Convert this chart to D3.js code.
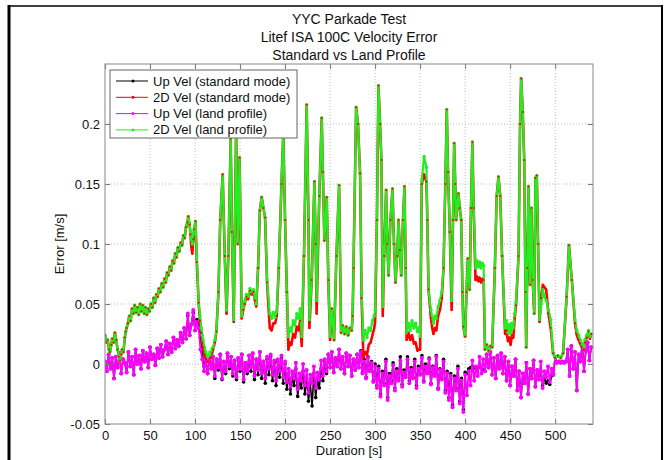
<!DOCTYPE html>
<html>
<head>
<meta charset="utf-8">
<script src="https://cdn.jsdelivr.net/npm/d3@7"></script>
<style>
	body { margin: 0; background: #fff; }
	svg { display: block; font-family: "Liberation Sans", Arial, sans-serif; }
	.tick text { font-size: 13px; fill: #111; }
</style>
</head>
<body>
<svg id="chart" width="666" height="460"></svg>
<script>
//time base of the up velocity traces (one sample every 2 s)
var upTime = d3.range(0, 541, 2);

//Up Vel (land profile), 0..540 s
var upVelLand = [
	0.002,-0.006,0.008,-0.004,0.005,-0.012,0.006,-0.003,0.009,-0.008,0.004,
	0.001,-0.007,0.010,-0.002,0.006,-0.009,0.012,0.000,0.007,-0.004,
	0.011,0.002,0.009,-0.003,0.014,0.004,0.008,-0.001,0.013,0.005,
	0.016,0.006,0.012,0.019,0.008,0.017,0.010,0.022,0.013,0.020,
	0.015,0.026,0.018,0.030,0.021,0.042,0.024,0.033,0.045,0.028,
	0.035,0.030,0.012,0.004,-0.006,0.003,-0.008,0.005,-0.004,0.006,
	-0.010,0.004,-0.003,0.008,-0.012,0.002,-0.006,0.009,-0.002,0.006,
	-0.008,0.003,-0.011,0.005,-0.004,0.008,-0.013,0.001,-0.006,0.007,
	-0.003,0.009,-0.010,0.004,-0.005,0.010,-0.008,0.002,-0.012,0.006,
	-0.004,0.008,-0.009,0.003,-0.014,0.004,-0.006,0.007,-0.011,0.002,
	-0.015,-0.004,-0.019,-0.006,-0.012,0.001,-0.021,-0.008,-0.014,0.000,
	-0.018,-0.005,-0.024,-0.009,-0.016,-0.002,-0.020,-0.007,-0.013,0.003,
	-0.010,0.004,-0.006,0.008,-0.003,0.010,-0.007,0.005,-0.002,0.012,
	-0.004,0.006,-0.008,0.009,-0.002,0.007,-0.010,0.004,-0.005,0.008,
	-0.003,0.010,-0.008,0.002,-0.012,0.005,-0.006,0.001,-0.015,-0.002,
	-0.020,-0.004,-0.027,-0.008,-0.018,0.002,-0.030,-0.010,-0.016,-0.001,
	-0.022,-0.006,-0.014,0.003,-0.019,-0.007,-0.011,0.004,-0.016,-0.005,
	-0.012,0.002,-0.020,-0.004,-0.009,0.005,-0.015,-0.002,-0.008,0.004,
	-0.017,-0.003,-0.010,0.006,-0.021,-0.005,-0.013,0.002,-0.024,-0.008,
	-0.030,-0.010,-0.036,-0.012,-0.022,-0.004,-0.033,-0.014,-0.040,-0.009,
	-0.026,-0.006,-0.018,0.003,-0.014,-0.002,-0.010,0.006,-0.008,0.004,
	-0.006,0.008,-0.003,0.010,-0.009,0.005,-0.012,0.007,-0.004,0.009,
	-0.008,0.006,-0.014,0.002,-0.018,-0.002,-0.010,0.004,-0.022,-0.006,
	-0.028,-0.008,-0.016,0.001,-0.025,-0.004,-0.012,0.003,-0.019,-0.005,
	-0.013,0.002,-0.020,-0.006,-0.011,-0.002,-0.015,-0.004,-0.009,0.006,
	0.001,0.002,0.001,0.002,0.001,0.002,0.012,-0.010,0.015,-0.004,
	0.010,-0.022,0.008,0.002,0.016,-0.006,0.011,0.018,0.003,0.014
];

//Up Vel (standard mode), 0..540 s
var upVelStd = [
	0.002,-0.006,0.008,-0.004,0.005,-0.012,0.006,-0.003,0.009,-0.008,0.004,
	0.001,-0.007,0.010,-0.002,0.006,-0.009,0.012,0.000,0.007,-0.004,
	0.011,0.002,0.009,-0.003,0.014,0.004,0.008,-0.001,0.013,0.005,
	0.016,0.006,0.012,0.019,0.008,0.017,0.010,0.022,0.013,0.020,
	0.015,0.026,0.018,0.030,0.021,0.040,0.024,0.033,0.043,0.028,
	0.037,0.034,0.022,0.010,-0.002,0.003,-0.008,0.005,-0.004,0.006,
	-0.012,0.004,-0.005,0.008,-0.013,0.002,-0.008,0.009,-0.004,0.006,
	-0.010,0.003,-0.013,0.005,-0.006,0.008,-0.015,0.001,-0.008,0.007,
	-0.006,0.009,-0.013,0.004,-0.009,0.010,-0.012,0.002,-0.016,0.004,
	-0.009,0.006,-0.014,0.001,-0.018,0.002,-0.011,0.005,-0.016,0.000,
	-0.021,-0.008,-0.025,-0.011,-0.018,-0.004,-0.027,-0.013,-0.020,-0.006,
	-0.025,-0.012,-0.031,-0.016,-0.035,-0.008,-0.028,-0.013,-0.020,-0.004,
	-0.014,0.002,-0.008,0.008,-0.003,0.010,-0.007,0.005,-0.002,0.012,
	-0.004,0.006,-0.008,0.009,-0.002,0.007,-0.010,0.004,-0.005,0.008,
	-0.003,0.011,-0.007,0.004,-0.011,0.006,-0.005,0.002,-0.014,0.000,
	-0.018,-0.002,-0.025,-0.006,-0.016,0.004,-0.028,-0.008,-0.014,0.001,
	-0.020,-0.004,-0.012,0.006,-0.017,-0.005,-0.009,0.006,-0.014,-0.003,
	-0.011,0.004,-0.018,-0.002,-0.008,0.007,-0.014,0.000,-0.007,0.005,
	-0.016,-0.002,-0.009,0.007,-0.020,-0.004,-0.012,0.004,-0.022,-0.006,
	-0.028,-0.008,-0.034,-0.010,-0.020,-0.002,-0.031,-0.012,-0.038,-0.007,
	-0.008,-0.004,-0.003,-0.002,-0.003,-0.004,-0.003,-0.002,-0.004,-0.005,
	-0.006,0.008,-0.003,0.010,-0.009,0.005,-0.012,0.007,-0.004,0.009,
	-0.008,0.006,-0.014,0.002,-0.018,-0.002,-0.010,0.004,-0.022,-0.006,
	-0.028,-0.008,-0.016,0.001,-0.025,-0.004,-0.012,0.003,-0.019,-0.005,
	-0.013,-0.006,-0.018,-0.012,-0.016,-0.014,-0.017,-0.010,-0.009,0.006,
	0.001,0.002,0.001,0.002,0.001,0.002,0.012,-0.010,0.015,-0.004,
	0.010,-0.022,0.008,0.002,0.016,-0.006,0.011,0.018,0.003,0.014
];

//2D Vel (land profile) as [time, error]
var vel2dLand = [
	[0,.024],[1.5,.018],[3,.020],[4.5,.012],[5.5,.010],[7,.016],[8,.021],[9.5,.018],[11,.026],[12.5,.020],
	[14,.012],[15.5,.006],[16.7,.003],[18,.008],[19,.012],[20.5,.010],[22,.022],[23,.027],[24,.030],[25.5,.034],
	[27,.040],[28.5,.036],[30,.046],[31.5,.042],[33,.049],[34.5,.043],[36,.047],[37.5,.041],[39,.050],[40.5,.044],
	[42,.049],[43.5,.042],[45,.047],[46.5,.041],[48,.046],[49.5,.044],[51,.050],[52.5,.047],[54,.055],[55.5,.051],
	[57,.058],[58.5,.056],[60,.063],[61.5,.060],[63,.067],[64.5,.064],[66,.071],[67.5,.068],[69,.076],[70.5,.074],
	[72,.081],[73.5,.078],[75,.086],[76.5,.084],[78,.092],[79.5,.089],[81,.097],[82.5,.094],[84,.101],[85.5,.099],
	[87,.107],[88.5,.105],[90,.114],[91.5,.118],[92.5,.123],[94,.116],[95,.110],[96,.104],[97,.100],[98,.108],
	[99,.113],[100.5,.119],[102,.090],[104,.051],[105.5,.040],[107,.030],[108,.024],[109,.020],[110.5,.014],[112,.010],
	[113.5,.007],[115,.006],[116.5,.010],[118,.009],[119,.013],[120,.014],[122,.020],[123.7,.027],[126,.060],[128,.120],
	[130.7,.158],[133,.090],[135,.045],[137,.090],[139.6,.188],[141,.110],[143,.037],[145.6,.195],[147.5,.100],[149.5,.172],
	[151.8,.040],[153.5,.047],[155,.052],[157,.058],[159,.056],[161,.063],[163,.060],[164.8,.062],[166.5,.055],[168,.050],
	[170,.080],[172,.128],[174,.139],[176,.130],[177.8,.122],[180,.070],[183,.042],[185,.038],[187,.043],[189,.039],
	[190.7,.044],[193,.080],[196,.150],[198,.192],[200,.120],[202,.060],[203.7,.023],[205.5,.030],[207,.027],[209,.036],
	[211,.032],[213,.042],[215,.038],[216.7,.046],[218.5,.023],[221,.090],[224,.216],[226,.120],[227,.037],[229.6,.070],
	[232.6,.152],[234,.100],[235,.053],[238,.140],[240.7,.205],[242,.160],[243.6,.103],[246.3,.139],[248,.070],[250,.023],
	[251.8,.046],[254.4,.020],[257,.090],[260,.149],[262.2,.026],[264,.032],[266,.025],[268,.031],[270,.024],[272,.030],
	[274,.028],[275,.040],[276,.080],[278.9,.214],[281,.200],[283.3,.159],[285,.060],[287,.020],[289,.028],[291,.022],
	[293,.030],[295,.028],[297,.036],[299,.040],[300,.045],[302,.120],[303.7,.232],[305.5,.200],[307,.170],[308.5,.048],
	[310,.090],[312.2,.145],[313.5,.100],[315,.074],[317,.120],[319.3,.146],[321,.100],[322.6,.068],[324.5,.090],[326,.120],
	[327.5,.095],[329,.074],[331,.120],[332.6,.148],[334,.080],[335,.026],[337,.034],[339,.028],[341,.036],[343,.030],
	[345,.034],[347,.027],[348.5,.030],[350,.023],[351.8,.153],[354.4,.173],[357,.164],[358,.120],[359.3,.062],[362,.045],
	[363.5,.038],[364.8,.034],[366.5,.040],[368,.038],[370,.048],[372,.053],[374,.060],[376,.080],[378,.150],[379.6,.212],
	[381,.160],[383,.110],[385,.053],[386.5,.120],[387.8,.184],[389,.150],[390,.120],[392.6,.142],[394,.130],[395.6,.120],
	[397,.060],[398,.031],[400,.023],[401.5,.060],[403,.088],[405,.062],[406.5,.130],[408,.185],[409.5,.130],[411.5,.080],
	[413,.086],[414.5,.081],[416,.085],[417.5,.080],[419,.084],[420.5,.082],[422,.012],[424,.016],[426,.011],[428,.015],
	[430,.014],[433,.080],[435,.140],[437,.156],[439,.140],[441,.090],[444.4,.030],[446,.036],[447.5,.026],[449,.033],
	[450.5,.025],[452,.034],[453.5,.030],[455,.042],[456.5,.052],[459.3,.090],[461,.200],[462.2,.238],[464,.210],[465.6,.170],
	[467,.060],[467.8,.014],[469,.080],[470.4,.148],[472,.066],[473.6,.130],[475,.070],[476.7,.042],[478,.155],[479.6,.157],
	[481,.100],[482.6,.037],[484.5,.050],[486.3,.062],[488,.056],[490,.053],[492.5,.045],[495,.037],[497.7,.009],[500,.005],
	[503,.007],[506,.005],[508.8,.009],[512.7,.056],[515.3,.099],[518.5,.070],[522,.037],[524,.028],[526,.024],[527.8,.020],
	[529.5,.017],[531.6,.014],[533,.020],[535,.024],[537,.028],[538.5,.022],[540,.025]
];

//2D Vel (standard mode) as [time, error]
var vel2dStd = [
	[0,.024],[1.5,.018],[3,.020],[4.5,.012],[5.5,.010],[7,.016],[8,.021],[9.5,.018],[11,.026],[12.5,.020],
	[14,.012],[15.5,.006],[16.7,.003],[18,.008],[19,.012],[20.5,.010],[22,.022],[23,.027],[24,.030],[25.5,.034],
	[27,.040],[28.5,.036],[30,.046],[31.5,.042],[33,.049],[34.5,.043],[36,.047],[37.5,.041],[39,.050],[40.5,.044],
	[42,.049],[43.5,.042],[45,.047],[46.5,.041],[48,.046],[49.5,.044],[51,.050],[52.5,.047],[54,.055],[55.5,.051],
	[57,.058],[58.5,.056],[60,.063],[61.5,.060],[63,.067],[64.5,.064],[66,.071],[67.5,.068],[69,.076],[70.5,.074],
	[72,.081],[73.5,.078],[75,.086],[76.5,.084],[78,.092],[79.5,.089],[81,.097],[82.5,.094],[84,.101],[85.5,.099],
	[87,.107],[88.5,.105],[90,.114],[91.5,.118],[92.5,.123],[94,.116],[95,.108],[96,.097],[97,.092],[98,.104],
	[99,.112],[100.5,.119],[102,.085],[104,.051],[105.5,.036],[107,.026],[108,.018],[109,.014],[110.5,.008],[112,.004],
	[113.5,.002],[115,.002],[116.5,.005],[118,.005],[119,.009],[120,.012],[122,.018],[123.7,.027],[126,.060],[128,.120],
	[130.7,.158],[133,.090],[135,.042],[137,.090],[139.6,.188],[141,.110],[143,.035],[145.6,.195],[147.5,.100],[149.5,.172],
	[151.8,.038],[153.5,.045],[155,.050],[157,.056],[159,.054],[161,.061],[163,.058],[164.8,.060],[166.5,.053],[168,.048],
	[170,.080],[172,.128],[174,.139],[176,.130],[177.8,.122],[180,.068],[183,.030],[185,.028],[187,.034],[189,.034],
	[190.7,.040],[193,.080],[196,.150],[198,.192],[200,.120],[202,.060],[203.7,.012],[205.5,.018],[207,.016],[209,.025],
	[211,.022],[213,.031],[215,.028],[216.7,.036],[218.5,.015],[221,.090],[224,.216],[226,.120],[227,.030],[229.6,.070],
	[232.6,.152],[234,.100],[235,.042],[238,.140],[240.7,.205],[242,.160],[243.6,.103],[246.3,.139],[248,.070],[250,.020],
	[251.8,.046],[254.4,.020],[257,.090],[260,.149],[262.2,.026],[264,.032],[266,.025],[268,.031],[270,.024],[272,.030],
	[274,.028],[275,.040],[276,.080],[278.9,.214],[281,.200],[283.3,.159],[285,.055],[287,.005],[289,.010],[291,.008],
	[293,.016],[295,.018],[297,.024],[299,.030],[300,.035],[302,.120],[303.7,.232],[305.5,.200],[307,.170],[308.5,.040],
	[310,.090],[312.2,.145],[313.5,.100],[315,.074],[317,.120],[319.3,.146],[321,.100],[322.6,.068],[324.5,.090],[326,.120],
	[327.5,.095],[329,.074],[331,.120],[332.6,.148],[334,.080],[335,.020],[337,.026],[339,.020],[341,.024],[343,.017],
	[345,.018],[347,.011],[348.5,.012],[350,.012],[351.8,.150],[354.4,.158],[357,.152],[358,.120],[359.3,.062],[362,.038],
	[363.5,.030],[364.8,.025],[366.5,.030],[368,.028],[370,.040],[372,.045],[374,.055],[376,.080],[378,.150],[379.6,.212],
	[381,.160],[383,.110],[385,.045],[386.5,.120],[387.8,.184],[389,.150],[390,.120],[392.6,.142],[394,.130],[395.6,.120],
	[397,.060],[398,.031],[400,.023],[401.5,.060],[403,.088],[405,.062],[406.5,.130],[408,.185],[409.5,.130],[411.5,.070],
	[413,.073],[414.5,.069],[416,.072],[417.5,.068],[419,.071],[420.5,.070],[422,.012],[424,.016],[426,.011],[428,.015],
	[430,.014],[433,.080],[435,.140],[437,.156],[439,.140],[441,.090],[444.4,.025],[446,.028],[447.5,.019],[449,.022],
	[450.5,.016],[452,.024],[453.5,.022],[455,.038],[456.5,.049],[459.3,.090],[461,.200],[462.2,.238],[464,.210],[465.6,.170],
	[467,.060],[467.8,.014],[469,.080],[470.4,.148],[472,.066],[473.6,.130],[475,.070],[476.7,.042],[478,.155],[479.6,.157],
	[481,.100],[482.6,.035],[484.5,.055],[486.3,.066],[488,.064],[490,.062],[492.5,.042],[495,.030],[497.7,.009],[500,.005],
	[503,.007],[506,.005],[508.8,.009],[512.7,.056],[515.3,.099],[518.5,.070],[522,.034],[524,.024],[526,.020],[527.8,.017],
	[529.5,.014],[531.6,.012],[533,.018],[535,.022],[537,.027],[538.5,.021],[540,.025]
];

var xTicks = [0, 50, 100, 150, 200, 250, 300, 350, 400, 450, 500];
var yTicks = [-0.05, 0, 0.05, 0.1, 0.15, 0.2];
var titleLines = ["YYC Parkade Test", "Litef ISA 100C Velocity Error", "Standard vs Land Profile"];
var seriesNames = ["Up Vel (standard mode)", "2D Vel (standard mode)", "Up Vel (land profile)", "2D Vel (land profile)"];
var seriesColors = ["#000000", "#ff0000", "#ff00ff", "#22ee22"];

var svg = d3.select("#chart");
var plotLeft = 105, plotRight = 593, plotTop = 64, plotBottom = 424;

var x = d3.scaleLinear().domain([0, 542]).range([plotLeft, plotRight]);
var y = d3.scaleLinear().domain([-0.05, 0.25]).range([plotBottom, plotTop]);

svg.append("rect").attr("width", 666).attr("height", 460).attr("fill", "#fff");

//page frame around the figure
svg.append("line").attr("x1", 8).attr("x2", 663).attr("y1", 6).attr("y2", 6)
	.attr("stroke", "#000").attr("stroke-width", 1.5);
svg.append("line").attr("x1", 9).attr("x2", 9).attr("y1", 5).attr("y2", 460)
	.attr("stroke", "#000").attr("stroke-width", 3);
svg.append("line").attr("x1", 662).attr("x2", 662).attr("y1", 5).attr("y2", 460)
	.attr("stroke", "#000").attr("stroke-width", 2);

//dotted grid
svg.append("g").selectAll("line").data(xTicks.filter(function(d){ return d > 0; }))
	.join("line")
	.attr("x1", function(d){ return x(d); }).attr("x2", function(d){ return x(d); })
	.attr("y1", plotTop).attr("y2", plotBottom)
	.attr("stroke", "#bbb").attr("stroke-width", 1).attr("stroke-dasharray", "1,2");
svg.append("g").selectAll("line").data(yTicks.filter(function(d){ return d > -0.05; }))
	.join("line")
	.attr("x1", plotLeft).attr("x2", plotRight)
	.attr("y1", function(d){ return y(d); }).attr("y2", function(d){ return y(d); })
	.attr("stroke", "#bbb").attr("stroke-width", 1).attr("stroke-dasharray", "1,2");

//series
svg.append("clipPath").attr("id", "plotClip").append("rect")
	.attr("x", plotLeft).attr("y", plotTop).attr("width", plotRight - plotLeft).attr("height", plotBottom - plotTop);
var plot = svg.append("g").attr("clip-path", "url(#plotClip)");

var line = d3.line().x(function(d){ return x(d[0]); }).y(function(d){ return y(d[1]); });
var upStdPts = upTime.map(function(t, i){ return [t, upVelStd[i]]; });
var upLandPts = upTime.map(function(t, i){ return [t, upVelLand[i]]; });

function drawLine(pts, color, width){
	plot.append("path").datum(pts)
		.attr("d", line)
		.attr("fill", "none")
		.attr("stroke", color)
		.attr("stroke-width", width)
		.attr("stroke-linejoin", "round");
}
function drawDots(pts, color, r){
	plot.append("g").selectAll("circle").data(pts).join("circle")
		.attr("cx", function(d){ return x(d[0]); })
		.attr("cy", function(d){ return y(d[1]); })
		.attr("r", r)
		.attr("fill", color);
}

drawLine(upStdPts, seriesColors[0], 1.6);
drawDots(upStdPts, seriesColors[0], 1.8);
drawLine(vel2dStd, seriesColors[1], 2.6);
drawLine(upLandPts, seriesColors[2], 1.8);
drawDots(upLandPts, seriesColors[2], 2.0);
drawLine(vel2dLand, seriesColors[3], 2.2);
drawDots(vel2dLand, seriesColors[3], 1.7);
//standard mode markers peek through the land profile trace
drawDots(vel2dStd, seriesColors[1], 1.0);

//axes, MATLAB style: inward ticks on all four sides
var fmt = function(d){ return String(+d.toFixed(2)); };
svg.append("g").attr("transform", "translate(0," + plotBottom + ")")
	.call(d3.axisBottom(x).tickValues(xTicks).tickSize(-5).tickPadding(7).tickFormat(fmt));
svg.append("g").attr("transform", "translate(" + plotLeft + ",0)")
	.call(d3.axisLeft(y).tickValues(yTicks).tickSize(-5).tickPadding(5).tickFormat(fmt));
svg.append("g").attr("transform", "translate(0," + plotTop + ")")
	.call(d3.axisTop(x).tickValues(xTicks).tickSize(-5).tickFormat(""));
svg.append("g").attr("transform", "translate(" + plotRight + ",0)")
	.call(d3.axisRight(y).tickValues(yTicks).tickSize(-5).tickFormat(""));
svg.selectAll(".domain").remove();
svg.selectAll(".tick line").attr("stroke", "#777");
svg.append("rect")
	.attr("x", plotLeft).attr("y", plotTop)
	.attr("width", plotRight - plotLeft).attr("height", plotBottom - plotTop)
	.attr("fill", "none").attr("stroke", "#888").attr("stroke-width", 1);

//titles
svg.append("g").selectAll("text").data(titleLines).join("text")
	.attr("x", (plotLeft + plotRight) / 2)
	.attr("y", function(d, i){ return 24 + i * 18; })
	.attr("text-anchor", "middle")
	.style("font-size", "14px")
	.style("fill", "#111")
	.text(function(d){ return d; });

svg.append("text")
	.attr("x", (plotLeft + plotRight) / 2)
	.attr("y", 455)
	.attr("text-anchor", "middle")
	.style("font-size", "13px")
	.style("fill", "#111")
	.text("Duration [s]");

svg.append("text")
	.attr("transform", "translate(64," + ((plotTop + plotBottom) / 2) + ") rotate(-90)")
	.attr("text-anchor", "middle")
	.style("font-size", "13px")
	.style("fill", "#111")
	.text("Error [m/s]");

//legend
var legend = svg.append("g").attr("transform", "translate(110,70)");
legend.append("rect").attr("width", 187).attr("height", 68)
	.attr("fill", "#fff").attr("stroke", "#666").attr("stroke-width", 1);
var items = legend.selectAll("g").data(seriesNames).join("g")
	.attr("transform", function(d, i){ return "translate(0," + (11 + i * 16.3) + ")"; });
items.append("line").attr("x1", 6).attr("x2", 38)
	.attr("stroke", function(d, i){ return seriesColors[i]; }).attr("stroke-width", 1);
items.append("circle").attr("cx", 23).attr("r", 1.5)
	.attr("fill", function(d, i){ return seriesColors[i]; });
items.append("text").attr("x", 43).attr("y", 4.5)
	.style("font-size", "13px")
	.style("fill", "#111")
	.text(function(d){ return d; });
</script>
</body>
</html>
